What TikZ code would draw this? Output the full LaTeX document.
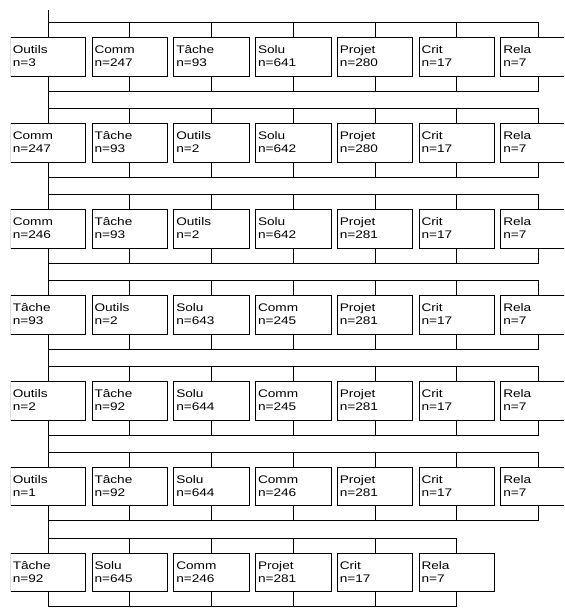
\documentclass[tikz,border=0pt]{standalone}
\usepackage{fontspec}
\newfontfamily\boxfont[FakeStretch=1.24]{Liberation Sans}
\begin{document}
\begin{tikzpicture}[x=1pt,y=-1pt,
  box/.style={draw=black, line width=1pt, outer sep=0pt, anchor=north west,
    inner xsep=2.5pt, inner ysep=0pt, text width=70.5pt, align=left,
    text height=16pt, text depth=22.5pt,
    font=\boxfont\fontsize{11}{13}\selectfont},
  link/.style={draw=black, line width=1pt}]
\useasboundingbox (0,0) rectangle (564,609);
\clip (10.9,0) rectangle (564,609);
\foreach \r/\lst in {
  1/{Outils/3,Comm/247,Tâche/93,Solu/641,Projet/280,Crit/17,Rela/7},
  2/{Comm/247,Tâche/93,Outils/2,Solu/642,Projet/280,Crit/17,Rela/7},
  3/{Comm/246,Tâche/93,Outils/2,Solu/642,Projet/281,Crit/17,Rela/7},
  4/{Tâche/93,Outils/2,Solu/643,Comm/245,Projet/281,Crit/17,Rela/7},
  5/{Outils/2,Tâche/92,Solu/644,Comm/245,Projet/281,Crit/17,Rela/7},
  6/{Outils/1,Tâche/92,Solu/644,Comm/246,Projet/281,Crit/17,Rela/7},
  7/{Tâche/92,Solu/645,Comm/246,Projet/281,Crit/17,Rela/7}}{
  \foreach \lbl/\nv [count=\c from 0] in \lst {
    \node[box] (r\r c\c) at ({10.25+81.75*\c},{38+85.88*(\r-1)}) {\lbl\\n=\nv};
  }
}
\coordinate (start) at (48,10);
\draw[link] (start) -- (r1c0.north);
\foreach \r/\L in {1/6,2/6,3/6,4/6,5/6,6/6,7/5}{
  \draw[link] (r\r c0.north) -- ++(0,-15) -| (r\r c\L.north);
  \draw[link] (r\r c0.south) -- ++(0,15) -| (r\r c\L.south);
  \pgfmathtruncatemacro\Lm{\L-1}
  \foreach \c in {1,...,\Lm}{
    \draw[link] (r\r c\c.north) -- ++(0,-15);
    \draw[link] (r\r c\c.south) -- ++(0,15);
  }
}
\foreach \r in {1,...,6}{
  \pgfmathtruncatemacro\nr{\r+1}
  \draw[link] (r\r c0.south) -- (r\nr c0.north);
}
\end{tikzpicture}
\end{document}
